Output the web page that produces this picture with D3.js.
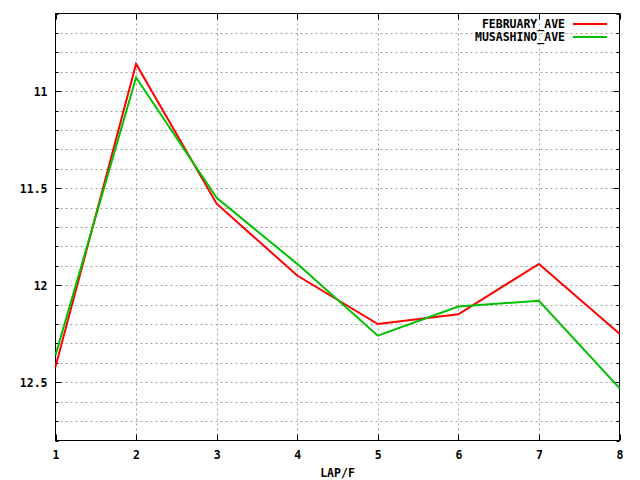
<!DOCTYPE html>
<html><head><meta charset="utf-8">
<script src="https://cdn.jsdelivr.net/npm/d3@7"></script>
<style>
body{margin:0;background:#fff;}
text{font-family:"DejaVu Sans Mono","Liberation Mono",monospace;font-weight:bold;font-size:11.5px;fill:#000;}
</style></head>
<body><svg id="c" width="640" height="480"></svg>
<script>
const laps = [1, 2, 3, 4, 5, 6, 7, 8];
const februaryAve = [12.42, 10.86, 11.58, 11.95, 12.20, 12.15, 11.89, 12.25];
const musashinoAve = [12.36, 10.93, 11.55, 11.89, 12.26, 12.11, 12.08, 12.53];
const seriesNames = ["FEBRUARY_AVE", "MUSASHINO_AVE"];
const seriesColors = ["#ff0000", "#00c000"];
const yTicks = [11, 11.5, 12, 12.5];
const yMinor = d3.range(106, 129).map(d => d / 10);
const xLabel = "LAP/F";

const L = 55.5, R = 619.5, T = 13.5, B = 440.5;
const svg = d3.select("#c");
const x = d3.scaleLinear().domain([1, 8]).range([L, R]);
const y = d3.scaleLinear().domain([10.6, 12.8]).range([T, B]);

// grid
const g = svg.append("g");
g.selectAll(".hg").data(yMinor.filter(v => v > 10.6 && v < 12.8)).enter().append("line")
  .attr("x1", L).attr("x2", R).attr("y1", d => Math.round(y(d)) + 0.5).attr("y2", d => Math.round(y(d)) + 0.5)
  .attr("stroke", "#a0a0a0").attr("stroke-width", 1).attr("stroke-dasharray", "2,3");
g.selectAll(".vg").data(laps.slice(1, -1)).enter().append("line")
  .attr("y1", T).attr("y2", B).attr("x1", d => Math.round(x(d)) + 0.5).attr("x2", d => Math.round(x(d)) + 0.5)
  .attr("stroke", "#a0a0a0").attr("stroke-width", 1).attr("stroke-dasharray", "2,3");

// ticks (left/right minor + major)
const tk = svg.append("g").attr("stroke", "#000").attr("stroke-width", 1);
yMinor.forEach(v => {
  const major = yTicks.some(t => Math.abs(t - v) < 1e-6);
  const len = major ? 6 : 3;
  const py = Math.round(y(v)) + 0.5;
  tk.append("line").attr("x1", L).attr("x2", L + len).attr("y1", py).attr("y2", py);
  tk.append("line").attr("x1", R).attr("x2", R - len).attr("y1", py).attr("y2", py);
});
laps.forEach(v => {
  const px = Math.round(x(v)) + 0.5;
  tk.append("line").attr("x1", px).attr("x2", px).attr("y1", B).attr("y2", B - 6);
  tk.append("line").attr("x1", px).attr("x2", px).attr("y1", T).attr("y2", T + 6);
});

// axes labels via d3 axes (text only)
const yAxis = d3.axisLeft(y).tickValues(yTicks).tickSize(0).tickPadding(8).tickFormat(d3.format("~g"));
const ya = svg.append("g").attr("transform", `translate(${L},0)`).call(yAxis);
ya.select(".domain").remove();
ya.selectAll("text").attr("font-family", null).attr("font-size", null).attr("dy", "0.35em");
const xAxis = d3.axisBottom(x).tickValues(laps).tickSize(0).tickPadding(10).tickFormat(d3.format("d"));
const xa = svg.append("g").attr("transform", `translate(0,${B})`).call(xAxis);
xa.select(".domain").remove();
xa.selectAll("text").attr("font-family", null).attr("font-size", null);

svg.append("text").attr("x", (L + R) / 2).attr("y", 477).attr("text-anchor", "middle").text(xLabel);

// border
svg.append("rect").attr("x", L).attr("y", T).attr("width", R - L).attr("height", B - T)
  .attr("fill", "none").attr("stroke", "#000").attr("stroke-width", 1);

// lines
const line = d3.line().x((d, i) => x(laps[i])).y(d => y(d));
[februaryAve, musashinoAve].forEach((s, i) => {
  svg.append("path").datum(s).attr("d", line).attr("fill", "none")
    .attr("stroke", seriesColors[i]).attr("stroke-width", 2);
});

// legend
seriesNames.forEach((n, i) => {
  const ly = 24 + i * 13;
  svg.append("text").attr("x", 565).attr("y", ly).attr("dy", "0.35em").attr("text-anchor", "end").text(n);
  svg.append("line").attr("x1", 573).attr("x2", 607).attr("y1", ly).attr("y2", ly)
    .attr("stroke", seriesColors[i]).attr("stroke-width", 2);
});
</script></body></html>
